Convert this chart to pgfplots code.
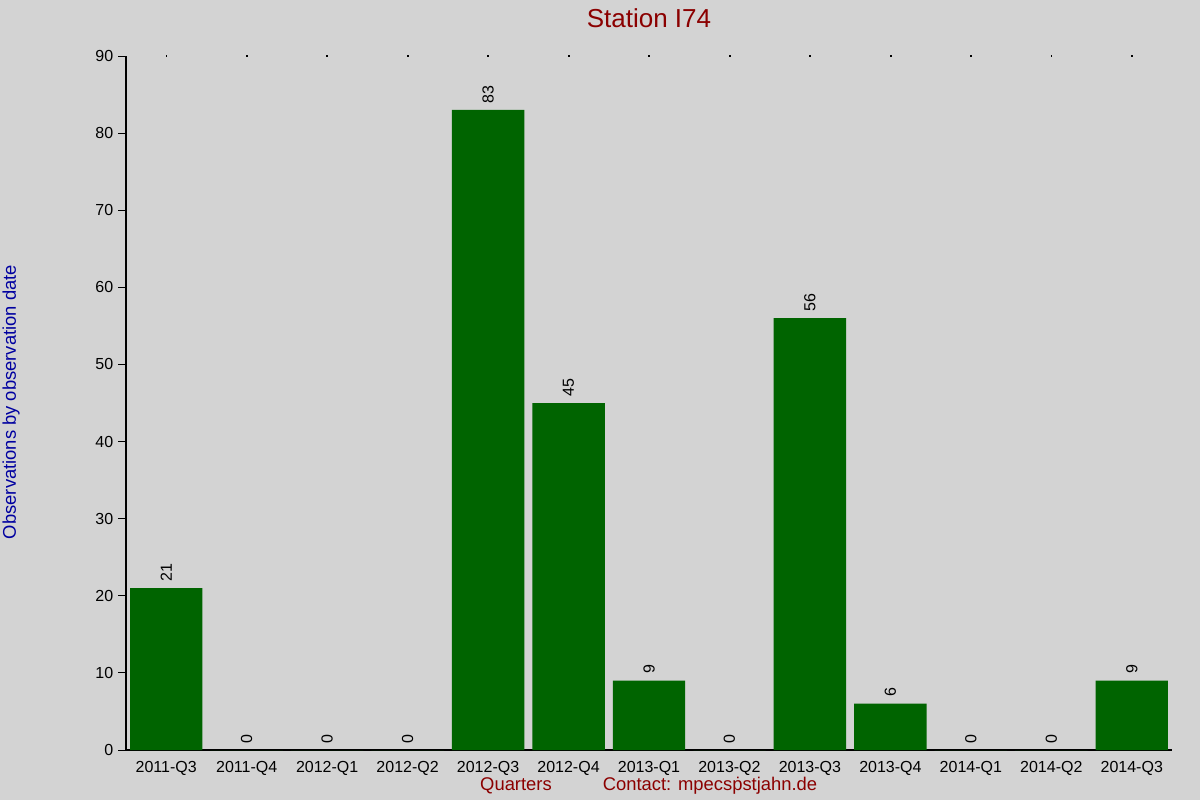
\documentclass[border=0pt]{standalone}
\usepackage{fontspec}
\setmainfont{Liberation Sans}
\usepackage{pgfplots}
\pgfplotsset{compat=1.18}
\definecolor{bgGray}{RGB}{211,211,211}
\definecolor{barGreen}{RGB}{0,100,0}
\definecolor{titleRed}{RGB}{139,0,0}
\definecolor{labelBlue}{RGB}{0,0,160}

\begin{document}
\begin{tikzpicture}
    % page = 1200 x 800 px, 1 px = 0.75pt
    \fill[bgGray] (0,0) rectangle (900pt,600pt);
    \useasboundingbox (0,0) rectangle (900pt,600pt);

    \begin{axis}[
        at={(94.5pt,37.5pt)},
        anchor=south west,
        scale only axis,
        width=784.5pt,
        height=520.5pt,
        xmin=-0.5, xmax=12.5,
        ymin=0, ymax=90,
        axis x line=bottom,
        axis y line=left,
        axis line style={line width=0.9pt, -},
        ytick={0,10,...,90},
        xtick={0,...,12},
        xticklabels={2011-Q3,2011-Q4,2012-Q1,2012-Q2,2012-Q3,2012-Q4,2013-Q1,2013-Q2,2013-Q3,2013-Q4,2014-Q1,2014-Q2,2014-Q3},
        x tick style={draw=none},
        y tick style={line width=0.75pt, black},
        tick align=outside,
        major tick length=6pt,
        tick label style={font=\fontsize{12}{14}\selectfont},
        xticklabel style={yshift=1pt},
        /pgf/number format/assume math mode=true,
        clip=false,
    ]
        \addplot[ybar, bar width=0.9, fill=barGreen, draw=none,
            nodes near coords,
            every node near coord/.append style={rotate=90, anchor=west, black,
                inner xsep=5pt, font=\fontsize{12}{14}\selectfont}]
            coordinates {
            (0,21) (1,0) (2,0) (3,0) (4,83) (5,45) (6,9)
            (7,0) (8,56) (9,6) (10,0) (11,0) (12,9)
        };
        % tiny tick dots along the top
        \addplot[only marks, mark=square*, mark size=0.3pt, black] coordinates {
            (0,90) (1,90) (2,90) (3,90) (4,90) (5,90) (6,90)
            (7,90) (8,90) (9,90) (10,90) (11,90) (12,90)
        };
    \end{axis}

    \node[titleRed, font=\fontsize{19.5}{22}\selectfont] at (486.75pt,586.5pt) {Station I74};
    \node[labelBlue, rotate=90, font=\fontsize{13.8}{16}\selectfont] at (8.25pt,298.5pt) {Observations by observation date};
    \node[titleRed, font=\fontsize{13.8}{16}\selectfont] at (387pt,10.5pt) {Quarters};
    \node[titleRed, font=\fontsize{13.8}{16}\selectfont] at (532.5pt,10.5pt) {Contact: mpecsṗstjahn.de};
\end{tikzpicture}
\end{document}
